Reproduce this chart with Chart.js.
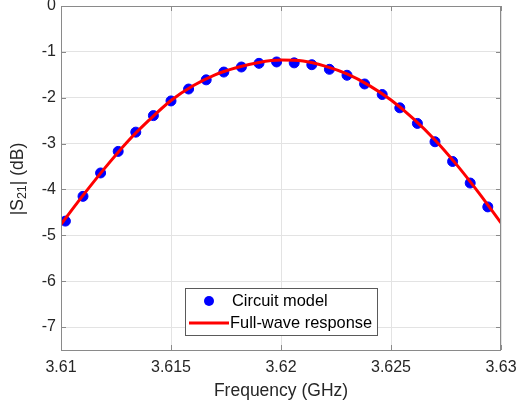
<!DOCTYPE html>
<html>
<head>
<meta charset="utf-8">
<script src="https://cdn.jsdelivr.net/npm/chart.js@4"></script>
<style>
    html, body { margin: 0; padding: 0; background: #fff; }
    #wrap { width: 518px; height: 406px; }
</style>
</head>
<body>
<div id="wrap"><canvas id="s21Chart"></canvas></div>
<script>
// Circuit model samples (GHz, dB)
const modelFreq = [3.6102, 3.6110, 3.6118, 3.6126, 3.6134, 3.6142, 3.6150, 3.6158, 3.6166,
    3.6174, 3.6182, 3.6190, 3.6198, 3.6206, 3.6214, 3.6222, 3.6230, 3.6238, 3.6246,
    3.6254, 3.6262, 3.6270, 3.6278, 3.6286, 3.6294];
const modelS21 = [-4.69, -4.15, -3.64, -3.17, -2.75, -2.39, -2.07, -1.81, -1.61,
    -1.44, -1.33, -1.25, -1.22, -1.24, -1.28, -1.38, -1.51, -1.70, -1.93,
    -2.22, -2.56, -2.96, -3.39, -3.86, -4.38];

// Full-wave response (GHz, dB)
const waveFreq = [3.610, 3.611, 3.612, 3.613, 3.614, 3.615, 3.616, 3.617, 3.618, 3.619, 3.620,
    3.621, 3.622, 3.623, 3.624, 3.625, 3.626, 3.627, 3.628, 3.629, 3.630];
const waveS21 = [-4.76, -4.13, -3.53, -2.97, -2.49, -2.06, -1.74, -1.50, -1.34, -1.23, -1.18,
    -1.20, -1.31, -1.48, -1.73, -2.05, -2.45, -2.92, -3.47, -4.08, -4.73];

// Axis ticks
const xTicks = [3.61, 3.615, 3.62, 3.625, 3.63];
const yTicks = [0, -1, -2, -3, -4, -5, -6, -7];

const FONT = '"Liberation Sans", Arial, Helvetica, sans-serif';
const TEXT = '#262626';
const AXIS = '#8a8a8a';

function toPoints(xs, ys) {
    return xs.map(function(x, i) { return { x: x, y: ys[i] }; });
}

// Box, inward ticks, titles and legend (MATLAB look)
const decorPlugin = {
    id: 'decor',
    afterDraw: function(chart) {
        const ctx = chart.ctx;
        const a = chart.chartArea;
        const xs = chart.scales.x;
        const ys = chart.scales.y;
        ctx.save();

        // axes box
        ctx.strokeStyle = AXIS;
        ctx.lineWidth = 1;
        ctx.strokeRect(a.left + 0.5, a.top + 0.5, a.right - a.left - 1, a.bottom - a.top);

        // inward ticks
        ctx.beginPath();
        xTicks.forEach(function(t) {
            const px = Math.round(xs.getPixelForValue(t)) + 0.5;
            ctx.moveTo(px, a.bottom); ctx.lineTo(px, a.bottom - 5);
            ctx.moveTo(px, a.top); ctx.lineTo(px, a.top + 5);
        });
        yTicks.forEach(function(t) {
            const py = Math.round(ys.getPixelForValue(t)) + 0.5;
            ctx.moveTo(a.left, py); ctx.lineTo(a.left + 5, py);
            ctx.moveTo(a.right, py); ctx.lineTo(a.right - 5, py);
        });
        ctx.stroke();

        // x title
        ctx.fillStyle = TEXT;
        ctx.font = '17.5px ' + FONT;
        ctx.textAlign = 'center';
        ctx.textBaseline = 'middle';
        ctx.fillText('Frequency (GHz)', (a.left + a.right) / 2, 391);

        // y title with subscript
        const big = '17.5px ' + FONT;
        const small = '12.5px ' + FONT;
        const parts = [['|S', big, 0], ['21', small, 5], ['| (dB)', big, 0]];
        let total = 0;
        parts.forEach(function(p) { ctx.font = p[1]; total += ctx.measureText(p[0]).width; });
        ctx.translate(18, 179);
        ctx.rotate(-Math.PI / 2);
        ctx.textAlign = 'left';
        let cx = -total / 2;
        parts.forEach(function(p) {
            ctx.font = p[1];
            ctx.fillText(p[0], cx, p[2]);
            cx += ctx.measureText(p[0]).width;
        });
        ctx.setTransform(1, 0, 0, 1, 0, 0);

        // legend
        const lx = 185, ly = 288, lw = 192, lh = 47;
        ctx.fillStyle = '#fff';
        ctx.fillRect(lx, ly, lw, lh);
        ctx.strokeStyle = '#5a5a5a';
        ctx.strokeRect(lx + 0.5, ly + 0.5, lw, lh);
        const dsModel = chart.data.datasets[0];
        const dsWave = chart.data.datasets[1];
        ctx.fillStyle = dsModel.backgroundColor;
        ctx.beginPath();
        ctx.arc(209, 301, 5, 0, Math.PI * 2);
        ctx.fill();
        ctx.strokeStyle = dsWave.borderColor;
        ctx.lineWidth = 3;
        ctx.beginPath();
        ctx.moveTo(189, 323); ctx.lineTo(229, 323);
        ctx.stroke();
        ctx.fillStyle = '#000';
        ctx.font = '16.4px ' + FONT;
        ctx.textAlign = 'left';
        ctx.textBaseline = 'middle';
        ctx.fillText(dsModel.label, 232, 301);
        ctx.fillText(dsWave.label, 230, 323);

        ctx.restore();
    }
};

new Chart(document.getElementById('s21Chart'), {
    type: 'scatter',
    data: {
        datasets: [{
            label: 'Circuit model',
            data: toPoints(modelFreq, modelS21),
            backgroundColor: '#0000ff',
            borderColor: '#0000ff',
            pointRadius: 5,
            pointHoverRadius: 5,
            showLine: false,
            order: 2
        }, {
            label: 'Full-wave response',
            data: toPoints(waveFreq, waveS21),
            borderColor: '#ff0000',
            backgroundColor: '#ff0000',
            borderWidth: 3,
            pointRadius: 0,
            showLine: true,
            cubicInterpolationMode: 'monotone',
            order: 1
        }]
    },
    plugins: [decorPlugin],
    options: {
        responsive: true,
        maintainAspectRatio: false,
        animation: false,
        layout: { padding: { left: 0, top: 5, right: 17, bottom: 0 } },
        plugins: {
            legend: { display: false },
            tooltip: { enabled: false }
        },
        scales: {
            x: {
                type: 'linear',
                min: 3.61,
                max: 3.63,
                afterBuildTicks: function(scale) {
                    scale.ticks = xTicks.map(function(v) { return { value: v }; });
                },
                afterFit: function(scale) {
                    scale.height = 56;
                    scale.paddingLeft = 0;
                    scale.paddingRight = 0;
                },
                ticks: {
                    color: TEXT,
                    font: { family: FONT, size: 16 },
                    padding: 8,
                    maxRotation: 0,
                    callback: function(v) { return String(+v.toFixed(3)); }
                },
                grid: { color: '#e3e3e3', drawTicks: false },
                border: { display: false }
            },
            y: {
                type: 'linear',
                min: -7.5,
                max: 0,
                afterBuildTicks: function(scale) {
                    scale.ticks = yTicks.map(function(v) { return { value: v }; });
                },
                afterFit: function(scale) {
                    scale.width = 61;
                    scale.paddingTop = 0;
                    scale.paddingBottom = 0;
                },
                ticks: {
                    color: TEXT,
                    font: { family: FONT, size: 16 },
                    padding: 5,
                    callback: function(v) { return String(v); }
                },
                grid: { color: '#e3e3e3', drawTicks: false },
                border: { display: false }
            }
        }
    }
});
</script>
</body>
</html>
